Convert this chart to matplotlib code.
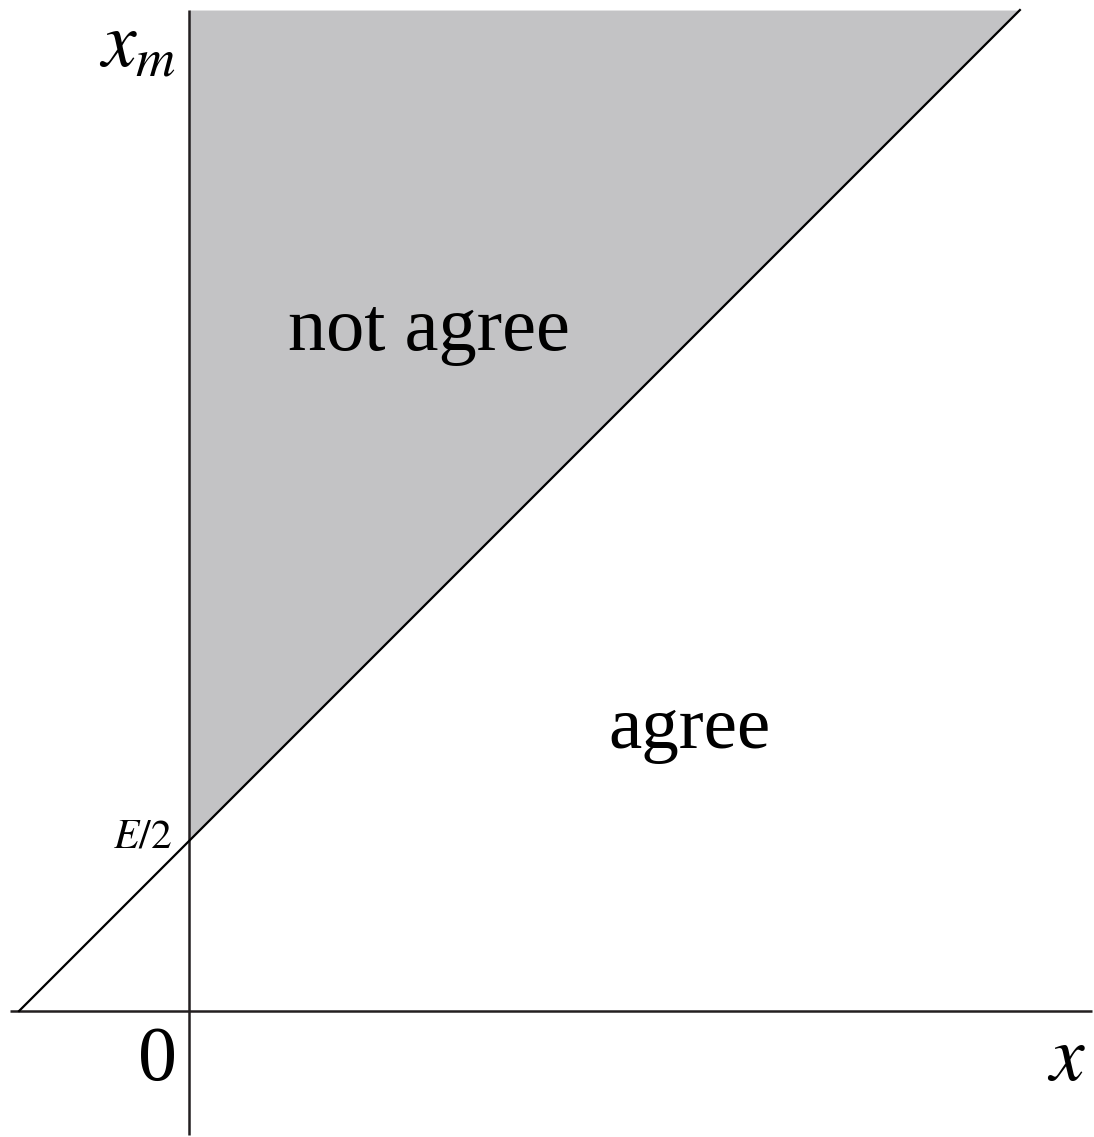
import matplotlib
matplotlib.use('Agg')
import matplotlib.pyplot as plt
import numpy as np

plt.rcParams['font.family'] = 'Liberation Serif'
plt.rcParams['mathtext.fontset'] = 'stix'

FILL_COLOR = '#c3c3c5'
AXIS_COLOR = '#231f20'

# threshold line x_m = x + E/2, in units of E/2
e_half = 1.0
x_line = np.array([-1.0, 4.888])
x_m_line = x_line + e_half
x_m_top = x_m_line[-1]

# axis extents
x_axis = [-1.053, 5.31]
y_axis = [-0.73, x_m_top]

region_labels = ['not agree', 'agree']

fig = plt.figure(figsize=(10.94, 11.37), dpi=100)
ax = fig.add_axes([0, 0, 1, 1])
ax.set_xlim(-1.112, 5.324)
ax.set_ylim(-0.741, 5.947)
ax.axis('off')

# region where x_m > x + E/2 for x >= 0
xs = np.array([0.0, x_m_top - e_half])
ax.fill_between(xs, xs + e_half, x_m_top, color=FILL_COLOR, lw=0, zorder=1)

ax.plot(x_axis, [0, 0], color=AXIS_COLOR, lw=1.8, zorder=2, solid_capstyle='butt')
ax.plot([0, 0], y_axis, color=AXIS_COLOR, lw=1.8, zorder=2, solid_capstyle='butt')
ax.plot(x_line, x_m_line, color='black', lw=1.6, zorder=3)

ax.text(0.582, 3.888, region_labels[0], fontsize=55, ha='left', va='baseline')
ax.text(2.465, 1.547, region_labels[1], fontsize=54, ha='left', va='baseline')

ax.text(-0.53, 5.559, r'$x_m$', fontsize=56, ha='left', va='baseline')
ax.text(5.159, -0.406, r'$x$', fontsize=56, ha='center', va='baseline')
ax.text(-0.188, -0.406, '0', fontsize=56, ha='center', va='baseline')
ax.text(-0.1, 0.959, r'$E/2$', fontsize=30, ha='right', va='baseline')

fig.savefig('out.png', dpi=100)
